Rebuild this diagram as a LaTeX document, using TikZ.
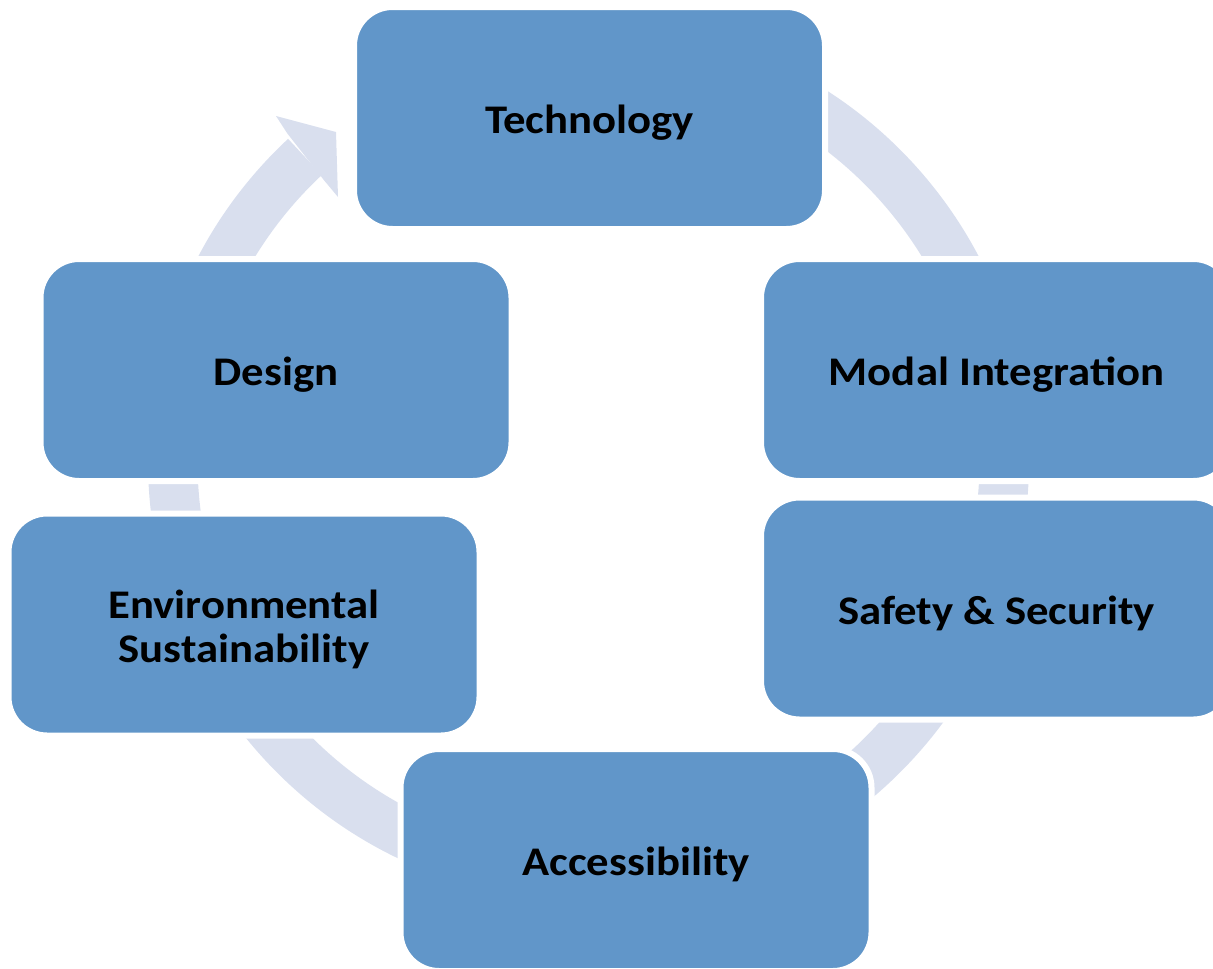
\documentclass[tikz,border=0pt]{standalone}
\usepackage{fontspec}
\setmainfont{Carlito}
\usetikzlibrary{calc}
\definecolor{boxblue}{RGB}{97,150,201}
\definecolor{arcfill}{RGB}{217,223,238}
\newcommand{\wtxt}[1]{\raisebox{-3.5pt}[\height][\depth]{\scalebox{1.1}[1]{#1}}}
\tikzset{
  cyclebox/.style={rectangle, rounded corners=29pt, fill=boxblue, draw=white,
    line width=4.5pt, minimum width=353.25pt, minimum height=166.5pt,
    inner sep=0pt, align=center, font=\fontsize{30.5}{32.8}\selectfont\bfseries, text=black},
  band/.style={fill=arcfill, draw=none}
}
\begin{document}
\begin{tikzpicture}[x=0.75pt, y=-0.75pt]
\useasboundingbox (0,0) rectangle (1213,968);
\clip (0,0) rectangle (1213,968);
\coordinate (c) at (588.5,461);
% circular band
\fill[band] ($(c)+(-133:440.5)$) arc[start angle=-133, end angle=-450, radius=440.5]
  -- ($(c)+(-450:391)$) arc[start angle=-450, end angle=-133, radius=391] -- cycle;
% arrow head
\coordinate (hb1) at (276,116);
\coordinate (htip) at (336,132);
\coordinate (hb2) at (338,197);
\fill[band] (hb1) -- (htip) -- (hb2) -- ($(c)+(-133.3:385)$) -- ($(c)+(-132.6:445)$) -- cycle;
% boxes
\node[cyclebox] (tech) at (589.5,118) {\wtxt{Technology}};
\node[cyclebox] (modal) at (996.5,370) {\wtxt{Modal Integration}};
\node[cyclebox] (safety) at (996.5,608.5) {\wtxt{Safety \& Security}};
\node[cyclebox] (access) at (636,860) {\wtxt{Accessibility}};
\node[cyclebox] (env) at (244,624.5) {\wtxt{Environmental}\\\wtxt{Sustainability}};
\node[cyclebox] (design) at (276,370) {\wtxt{Design}};
\end{tikzpicture}
\end{document}
